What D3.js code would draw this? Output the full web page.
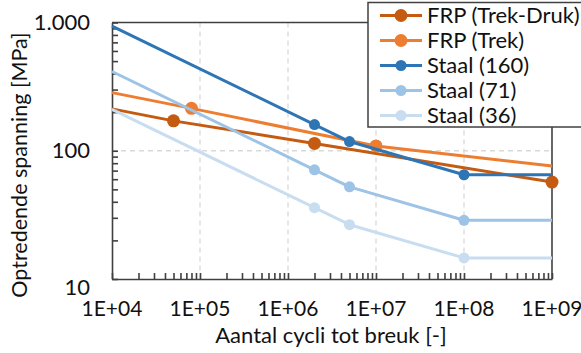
<!DOCTYPE html>
<html><head><meta charset="utf-8">
<script src="https://cdn.jsdelivr.net/npm/d3@7"></script>
<style>body{margin:0;background:#fff}svg{display:block}text{font-family:Lato,"Open Sans",sans-serif;fill:#111}</style>
</head><body><svg id="c" width="581" height="353"></svg>
<script>
const seriesNames = ["FRP (Trek-Druk)", "FRP (Trek)", "Staal (160)", "Staal (71)", "Staal (36)"];
const seriesColors = ["#C55A11", "#ED7D31", "#2E75B6", "#9DC3E6", "#C9DDF1"];
const cyclesFrpTD = [1e4, 5e4, 2e6, 1e9];
const stressFrpTD = [212, 171, 114, 57];
const markFrpTD = [false, true, true, true];
const cyclesFrpT = [1e4, 8e4, 1e7, 1e9];
const stressFrpT = [284, 214, 109, 76];
const markFrpT = [false, true, true, false];
const cyclesStaal = [1e4, 2e6, 5e6, 1e8, 1e9];
const stressStaal160 = [936, 160, 118, 65, 65];
const stressStaal71 = [415, 71, 52.3, 28.7, 28.7];
const stressStaal36 = [210, 36, 26.5, 14.6, 14.6];
const markStaal = [false, true, true, true, false];
const xTicks = [1e4, 1e5, 1e6, 1e7, 1e8, 1e9];
const xTickLabels = ["1E+04", "1E+05", "1E+06", "1E+07", "1E+08", "1E+09"];
const yTicks = [10, 100, 1000];
const yTickLabels = ["10", "100", "1.000"];
const xTitle = "Aantal cycli tot breuk [-]";
const yTitle = "Optredende spanning [MPa]";

const series = [
  {x: cyclesFrpTD, y: stressFrpTD, m: markFrpTD, r: 6.5},
  {x: cyclesFrpT, y: stressFrpT, m: markFrpT, r: 6.5},
  {x: cyclesStaal, y: stressStaal160, m: markStaal, r: 5.5},
  {x: cyclesStaal, y: stressStaal71, m: markStaal, r: 5.5},
  {x: cyclesStaal, y: stressStaal36, m: markStaal, r: 5.5}
].map((s, i) => ({...s, name: seriesNames[i], color: seriesColors[i],
  pts: s.x.map((v, j) => ({n: v, s: s.y[j], mk: s.m[j]}))}));

const L = 112, R = 552, T = 22.5, B = 279;
const svg = d3.select("#c");
const x = d3.scaleLog().domain([1e4, 1e9]).range([L, R]);
const y = d3.scaleLog().domain([10, 1000]).range([B, T]);
const axisCol = "#404040";

// grid
const g = svg.append("g");
g.selectAll("line.vg").data(xTicks.slice(1, -1)).join("line")
  .attr("x1", d => x(d)).attr("x2", d => x(d)).attr("y1", T).attr("y2", B)
  .attr("stroke", "#d9d9d9").attr("stroke-width", 1.3).attr("stroke-dasharray", "5,4");
g.selectAll("line.hg").data(yTicks.slice(1, -1)).join("line")
  .attr("x1", L).attr("x2", R).attr("y1", d => y(d)).attr("y2", d => y(d))
  .attr("stroke", "#d9d9d9").attr("stroke-width", 1.3).attr("stroke-dasharray", "5,4");

// minor ticks
const xMinor = [];
for (let e = 4; e < 9; e++) for (let k = 1; k <= 9; k++) xMinor.push(k * Math.pow(10, e));
xMinor.push(1e9);
const yMinor = [];
for (let e = 1; e < 3; e++) for (let k = 1; k <= 9; k++) yMinor.push(k * Math.pow(10, e));
yMinor.push(1000);

const xAxis = d3.axisBottom(x).tickValues(xMinor).tickSizeInner(-6).tickSizeOuter(0).tickFormat("");
svg.append("g").attr("transform", `translate(0,${B})`).call(xAxis)
  .call(a => a.selectAll("line,path").attr("stroke", axisCol).attr("stroke-width", 1.6));
const yAxis = d3.axisLeft(y).tickValues(yMinor).tickSizeInner(-6).tickSizeOuter(0).tickFormat("");
svg.append("g").attr("transform", `translate(${L},0)`).call(yAxis)
  .call(a => a.selectAll("line,path").attr("stroke", axisCol).attr("stroke-width", 1.6));

// top & right border
svg.append("line").attr("x1", L).attr("x2", R).attr("y1", T).attr("y2", T).attr("stroke", axisCol).attr("stroke-width", 1.6);
svg.append("line").attr("x1", R).attr("x2", R).attr("y1", T).attr("y2", B).attr("stroke", axisCol).attr("stroke-width", 1.6);

// tick labels
svg.append("g").selectAll("text").data(xTicks).join("text")
  .attr("x", d => x(d)).attr("y", 316).attr("text-anchor", "middle")
  .attr("font-size", 21).text((d, i) => xTickLabels[i]);
svg.append("g").selectAll("text").data(yTicks).join("text")
  .attr("x", 90).attr("y", d => y(d) + 7.5 + (d === 10 ? 8 : 0)).attr("text-anchor", "end")
  .attr("font-size", 22).text((d, i) => yTickLabels[i]);

// titles
svg.append("text").attr("x", 331).attr("y", 343).attr("text-anchor", "middle").attr("font-size", 22).text(xTitle);
svg.append("text").attr("transform", "translate(27,165) rotate(-90)").attr("text-anchor", "middle").attr("font-size", 21.5).text(yTitle);

// series
const line = d3.line().x(d => x(d.n)).y(d => y(d.s));
const sg = svg.append("g").selectAll("g").data(series).join("g");
sg.append("path").attr("d", d => line(d.pts)).attr("fill", "none")
  .attr("stroke", d => d.color).attr("stroke-width", 3).attr("stroke-linejoin", "round");
sg.each(function(d) {
  d3.select(this).selectAll("circle").data(d.pts.filter(p => p.mk)).join("circle")
    .attr("cx", p => x(p.n)).attr("cy", p => y(p.s)).attr("r", d.r).attr("fill", d.color);
});

// legend
const lg = svg.append("g");
lg.append("rect").attr("x", 368).attr("y", 2.5).attr("width", 230).attr("height", 124.5)
  .attr("fill", "#fff").attr("stroke", axisCol).attr("stroke-width", 1.5);
const li = lg.selectAll("g.it").data(series).join("g").attr("transform", (d, i) => `translate(0,${15.5 + i * 25})`);
li.append("line").attr("x1", 380).attr("x2", 422).attr("stroke", d => d.color).attr("stroke-width", 3);
li.append("circle").attr("cx", 401).attr("r", d => d.r).attr("fill", d => d.color);
li.append("text").attr("x", 427).attr("y", 7.5).attr("font-size", 22).text(d => d.name);
</script></body></html>
